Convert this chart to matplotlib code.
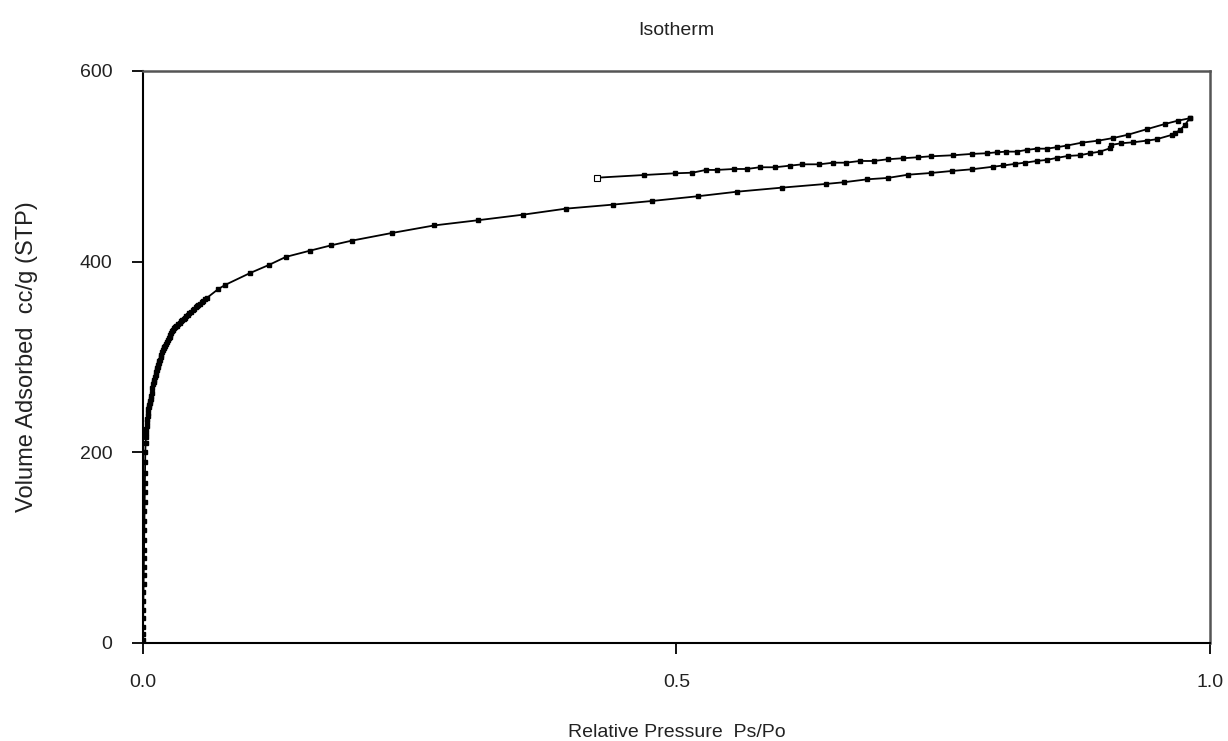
import numpy as np
import matplotlib.pyplot as plt

# adsorption branch (relative pressure, volume cc/g STP)
ads_p = [0.00002, 0.00005, 0.0001, 0.0002, 0.0003, 0.0004, 0.0005, 0.0006, 0.0007, 0.0008,
         0.0009, 0.0010, 0.0011, 0.0012, 0.0013, 0.0014, 0.0015, 0.0016, 0.0017, 0.0018,
         0.0020, 0.0022, 0.0025,
         0.0028, 0.0030, 0.0033, 0.0035, 0.0038, 0.0040, 0.0044, 0.0047, 0.0051, 0.0055,
         0.0059, 0.0063, 0.0067, 0.0072, 0.0077, 0.0082, 0.0088, 0.0094, 0.0100, 0.0105,
         0.0111, 0.0118, 0.0123, 0.0128, 0.0134, 0.0140, 0.0145, 0.0150, 0.0155, 0.0159,
         0.0166, 0.0172, 0.0180, 0.0187, 0.0194, 0.0200, 0.0207, 0.0215, 0.0225, 0.0234,
         0.0242, 0.0250, 0.0258, 0.0265, 0.0273, 0.0281, 0.0290, 0.0300, 0.0310, 0.0320,
         0.0333, 0.0347, 0.0358, 0.0370, 0.0383, 0.0395, 0.0408, 0.0422, 0.0436, 0.0450,
         0.0465, 0.0480, 0.0493, 0.0506, 0.0520, 0.0535, 0.0550, 0.0565, 0.0582, 0.0600,
         0.0703, 0.0769, 0.1003, 0.118, 0.134, 0.1565, 0.176, 0.1956, 0.233, 0.273,
         0.3137, 0.3564, 0.3964, 0.4403, 0.4768, 0.520, 0.557, 0.5985, 0.640, 0.657,
         0.679, 0.698, 0.717, 0.7385, 0.758, 0.777, 0.797, 0.8065, 0.817, 0.8266,
         0.8376, 0.847, 0.8563, 0.867, 0.878, 0.8875, 0.897, 0.9063, 0.907, 0.917,
         0.928, 0.9407, 0.950, 0.964, 0.967, 0.972, 0.9766, 0.981]
ads_v = [3, 9, 17, 26, 35, 44, 53, 62, 71, 80,
         89, 98, 108, 118, 128, 138, 148, 158, 168, 178,
         190, 200, 210,
         216, 220, 224, 228, 232, 235, 238, 241, 245, 248,
         250, 252, 254, 256, 259, 262, 267, 272, 274, 276,
         279, 281, 284, 286, 288, 290, 292, 294, 296, 297,
         300, 302, 305, 307, 309, 310, 312, 314, 316, 318,
         320, 321, 323, 325, 327, 328, 330, 331, 332, 333,
         335, 336, 338, 339, 340, 341, 343, 344, 346, 347,
         349, 350, 352, 353, 355, 356, 358, 359, 361, 362,
         371, 375.5, 388, 396.5, 405, 411.5, 417, 422, 430, 438,
         443.4, 449.3, 455.6, 459.8, 463.6, 468.6, 473.4, 477.6, 481.5, 483.3,
         486.4, 487.8, 491.2, 493, 495.1, 496.9, 499.6, 500.9, 502.5, 503.8,
         505.6, 506.7, 508.8, 510.9, 511.6, 513.7, 515.4, 518.9, 522.4, 524.2,
         525.2, 526.9, 528.4, 532.9, 534.7, 538.1, 543.4, 550.4]

# desorption branch
des_p = [0.981, 0.970, 0.9578, 0.9407, 0.9234, 0.9094, 0.8953, 0.8798, 0.8657, 0.8563,
         0.847, 0.8376, 0.8282, 0.8188, 0.8088, 0.800, 0.7907, 0.7767, 0.7594, 0.7382,
         0.7266, 0.7125, 0.698, 0.685, 0.672, 0.6586, 0.647, 0.634, 0.618, 0.6064,
         0.5923, 0.578, 0.566, 0.554, 0.5377, 0.5275, 0.515, 0.499, 0.4699, 0.426]
des_v = [550.4, 547.9, 544.4, 538.9, 533.2, 529.7, 526.9, 524.8, 521.7, 520,
         518.5, 518.5, 517.2, 515.4, 515.4, 514.7, 513.7, 513, 511.6, 510.5,
         509.5, 508.5, 507.4, 505.6, 505.6, 503.8, 503.8, 502.1, 502.1, 500.7,
         499, 499, 497.2, 497.2, 496.2, 496.2, 493.3, 492.7, 490.9, 488.1]

x_ticks = [0.0, 0.5, 1.0]
x_labels = ['0.0', '0.5', '1.0']
y_ticks = [0, 200, 400, 600]

plt.rcParams['font.family'] = ['Liberation Sans', 'DejaVu Sans']

fig = plt.figure(figsize=(12.28, 7.41), dpi=100)
ax = fig.add_axes([0.1164, 0.1323, 0.8689, 0.7719])

ax.plot(ads_p, ads_v, color='black', lw=1.3, marker='s', ms=3.4, mfc='black', mec='black')
ax.plot(des_p, des_v, color='black', lw=1.3, marker='s', ms=3.4, mfc='black', mec='black')
# last desorption point is drawn open
ax.plot(des_p[-1:], des_v[-1:], ls='none', marker='s', ms=3.8, mfc='white', mec='black', mew=0.8)

ax.set_xlim(0, 1)
ax.set_ylim(0, 600)
ax.set_xticks(x_ticks)
ax.set_xticklabels(x_labels)
ax.set_yticks(y_ticks)
ax.tick_params(direction='out', length=8, width=1.3, colors='black', labelcolor='#222222',
               labelsize=14)
ax.tick_params(axis='x', pad=14)
ax.tick_params(axis='y', pad=14)

for side in ['left', 'bottom']:
    ax.spines[side].set_linewidth(1.5)
    ax.spines[side].set_color('black')
for side in ['top', 'right']:
    ax.spines[side].set_linewidth(1.8)
    ax.spines[side].set_color('#555555')

ax.set_title('Isotherm', fontsize=14, color='#222222', pad=26)
ax.set_xlabel('Relative Pressure  Ps/Po', fontsize=14, color='#222222', labelpad=24)
ax.set_ylabel('Volume Adsorbed  cc/g (STP)', fontsize=17, color='#222222', labelpad=30)

fig.savefig('out.png', dpi=100, facecolor='white')
